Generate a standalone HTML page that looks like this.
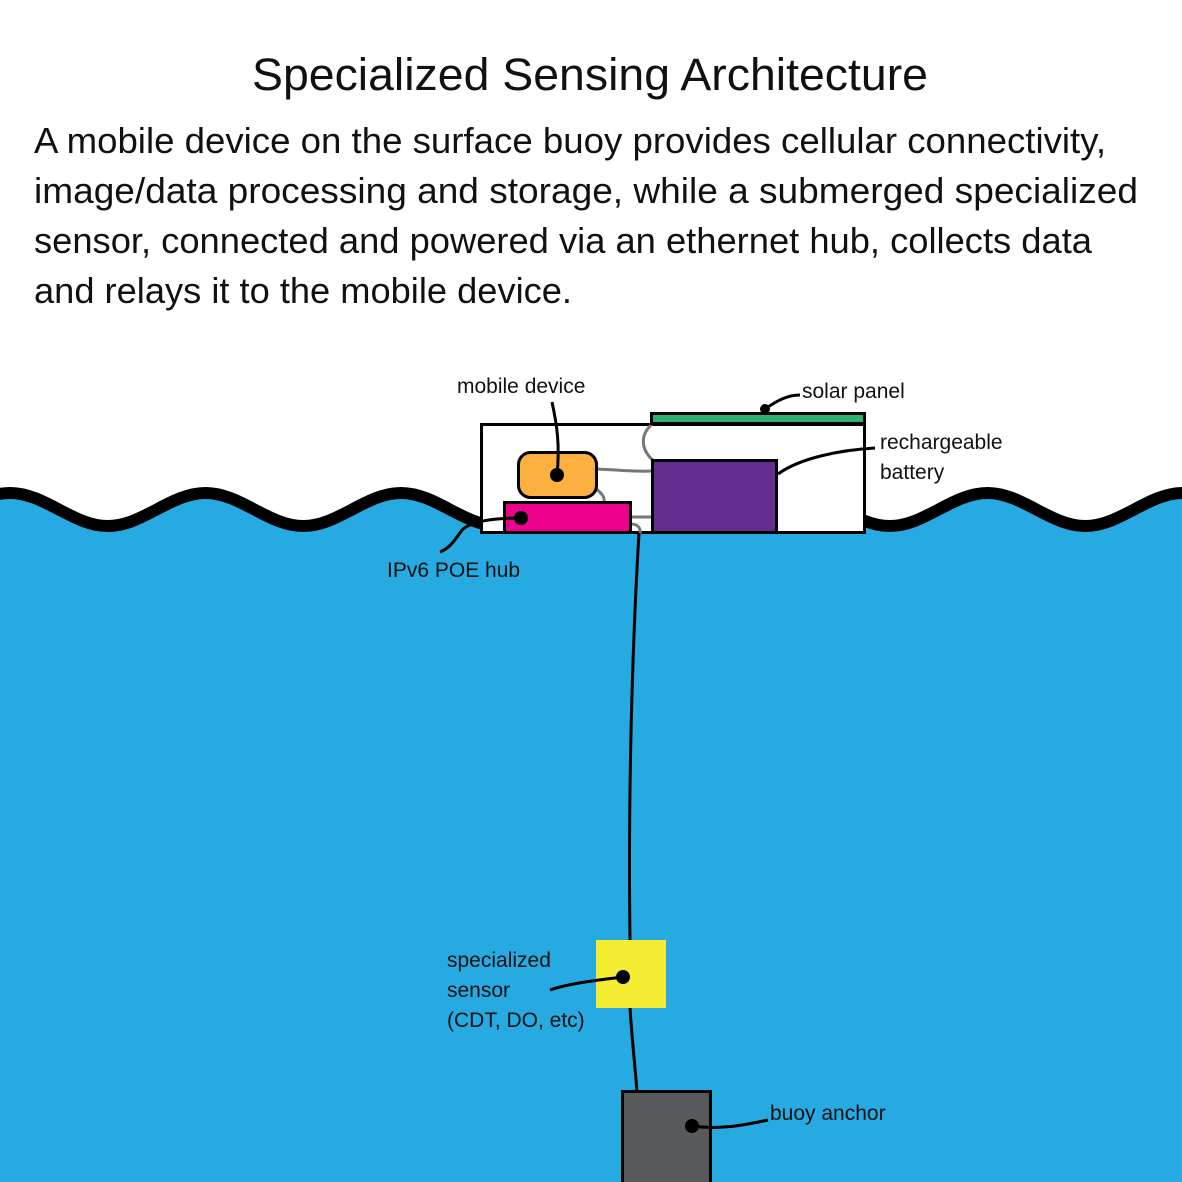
<!DOCTYPE html>
<html><head><meta charset="utf-8"><style>
html,body{margin:0;padding:0;background:#fff}
svg{display:block}
text{font-family:"Liberation Sans",sans-serif;fill:#111}
</style></head><body>
<svg width="1182" height="1182" viewBox="0 0 1182 1182" xmlns="http://www.w3.org/2000/svg">
<text x="590" y="90" font-size="45" text-anchor="middle" textLength="676" lengthAdjust="spacingAndGlyphs">Specialized Sensing Architecture</text>
<g font-size="36">
<text x="34" y="153" textLength="1072" lengthAdjust="spacingAndGlyphs">A mobile device on the surface buoy provides cellular connectivity,</text>
<text x="34" y="203" textLength="1104" lengthAdjust="spacingAndGlyphs">image/data processing and storage, while a submerged specialized</text>
<text x="34" y="253" textLength="1058" lengthAdjust="spacingAndGlyphs">sensor, connected and powered via an ethernet hub, collects data</text>
<text x="34" y="303" textLength="538" lengthAdjust="spacingAndGlyphs">and relays it to the mobile device.</text>
</g>
<!-- water -->
<path d="M-87.75 526 C-52.75 526 -25 493 10 493 C45 493 72.75 526 107.75 526 C142.75 526 170.5 493 205.5 493 C240.5 493 268.25 526 303.25 526 C338.25 526 366 493 401 493 C436 493 463.75 526 498.75 526 C533.75 526 561.5 493 596.5 493 C631.5 493 659.25 526 694.25 526 C729.25 526 757 493 792 493 C827 493 854.75 526 889.75 526 C924.75 526 952.5 493 987.5 493 C1022.5 493 1050.25 526 1085.25 526 C1120.25 526 1148 493 1183 493 C1218 493 1245.75 526 1280.75 526 L1280 1190 L-90 1190 Z" fill="#27a9e1" stroke="#000" stroke-width="12"/>
<rect x="-20" y="1182" width="1300" height="20" fill="#fff"/>
<!-- buoy box -->
<rect x="481.5" y="424.5" width="383" height="108" fill="#fff" stroke="#000" stroke-width="3"/>
<!-- gray wires -->
<g fill="none" stroke="#777" stroke-width="3">
<path d="M652 424 C640 435 640 450 655 462"/>
<path d="M597 469 C620 470 635 472 652 471"/>
<path d="M595 488 C603 494 605 498 604 503"/>
<path d="M631 517 L652 517"/>
<path d="M631 524 C638 524 641 528 640 535"/>
</g>
<rect x="651.5" y="413.5" width="213" height="10" fill="#2eb071" stroke="#000" stroke-width="3"/>
<rect x="652.5" y="460.5" width="124" height="72" fill="#662d91" stroke="#000" stroke-width="3"/>
<rect x="518.5" y="452.5" width="78" height="45" rx="12" fill="#fbb040" stroke="#000" stroke-width="3"/>
<rect x="504.5" y="502.5" width="126" height="30" fill="#ec008c" stroke="#000" stroke-width="3"/>
<!-- cable -->
<g fill="none" stroke="#000" stroke-width="3">
<path d="M639 533 C632 650 628 800 630 940"/>
<path d="M630 1008 C632 1040 635 1065 637 1092"/>
</g>
<rect x="596" y="940" width="70" height="68" fill="#f5ed32"/>
<rect x="622.5" y="1091.5" width="88" height="92" fill="#58595b" stroke="#000" stroke-width="3"/>
<!-- leaders -->
<g fill="none" stroke="#000" stroke-width="3">
<path d="M552 402 C557 425 560 445 557 475"/>
<path d="M765 409 C778 400 788 395 800 395"/>
<path d="M778 474 C800 458 840 450 875 448"/>
<path d="M521 518 C490 518 470 522 462 530 C455 540 450 548 440 552"/>
<path d="M623 977 C600 980 570 983 550 990"/>
<path d="M692 1126 C720 1130 745 1125 768 1120"/>
</g>
<g fill="#000">
<circle cx="557" cy="475" r="7"/>
<circle cx="765" cy="409" r="5"/>
<circle cx="521" cy="518" r="7"/>
<circle cx="623" cy="977" r="7"/>
<circle cx="692" cy="1126" r="7"/>
</g>
<g font-size="21">
<text x="457" y="393">mobile device</text>
<text x="802" y="398">solar panel</text>
<text x="880" y="449">rechargeable</text>
<text x="880" y="479">battery</text>
<text x="387" y="577">IPv6 POE hub</text>
<text x="447" y="967">specialized</text>
<text x="447" y="997">sensor</text>
<text x="447" y="1027">(CDT, DO, etc)</text>
<text x="770" y="1120">buoy anchor</text>
</g>
</svg>
</body></html>
